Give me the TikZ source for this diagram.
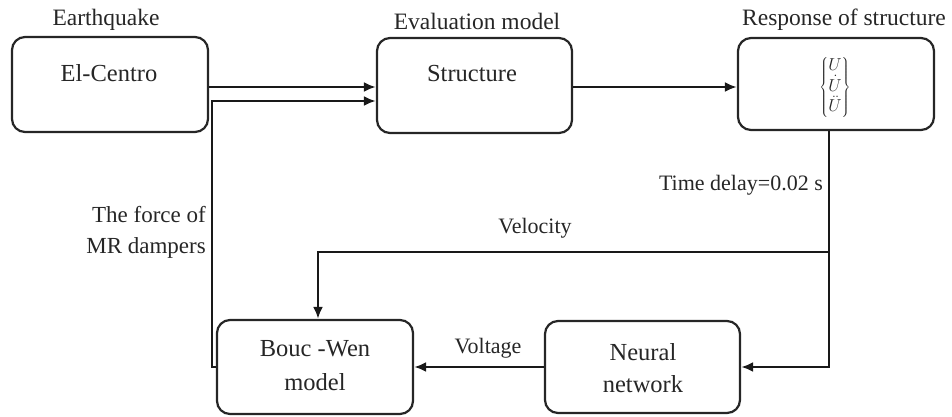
\documentclass[tikz,border=0pt]{standalone}
\usepackage{fontspec}
\setmainfont{LiberationSerif}[Extension=.ttf, UprightFont=*-Regular, BoldFont=*-Bold, ItalicFont=*-Italic]
\usetikzlibrary{arrows.meta}

\tikzset{
  blockbox/.style={draw=black!85, line width=2.2pt, rounded corners=13pt, inner sep=0pt},
  boxtext/.style={font=\fontsize{24.5}{32}\selectfont, text=black!85, align=center, inner sep=0pt},
  titletext/.style={font=\fontsize{23.5}{28}\selectfont, text=black!85, inner sep=0pt},
  flowlabel/.style={font=\fontsize{22}{31}\selectfont, text=black!85, inner sep=0pt},
  flow/.style={draw=black!90, line width=2.6pt, -{Latex[length=12pt,width=10pt]}},
}

\begin{document}
\begin{tikzpicture}[x=1pt,y=-1pt]
\useasboundingbox (0,0) rectangle (952,416);

% blocks
\node[blockbox, minimum width=196pt, minimum height=95pt] (eq) at (110,84.5) {};
\node[blockbox, minimum width=195pt, minimum height=95pt] (st) at (474.5,85.5) {};
\node[blockbox, minimum width=196pt, minimum height=92pt] (rs) at (836,84) {};
\node[blockbox, minimum width=196pt, minimum height=94pt] (bw) at (315,367) {};
\node[blockbox, minimum width=195pt, minimum height=92pt] (nn) at (642.5,367) {};

% block headings
\node[titletext] (eqtitle) at (106,20) {Earthquake};
\node[titletext] (sttitle) at (477,21) {Evaluation model};
\node[titletext] (rstitle) at (844,20) {Response of structure};

% block contents
\node[boxtext] (eqtext) at (109,73) {El-Centro};
\node[boxtext] (sttext) at (472,74) {Structure};
\node[inner sep=0pt, text=black!85] (rstext) at (835,87)
  {\fontsize{19}{20}\selectfont$\left\{\begin{array}{@{}c@{}}U\\[-1pt]\dot{U}\\[-1pt]\ddot{U}\end{array}\right\}$};
\node[boxtext] (bwtext) at (315,366) {Bouc -Wen\\[2pt]model};
\node[boxtext] (nntext) at (643,368) {Neural\\network};

% connectors
\coordinate (fb) at (212,101);
\coordinate (split) at (829,252);

\draw[flow] (eq.east |- 0,87) -- (st.west |- 0,87);
\draw[flow] (bw.west) -| (fb) -- (st.west |- fb);
\draw[flow] (st.east |- 0,87) -- (rs.west |- 0,87);
\draw[flow] (rs.south -| split) |- (nn.east);
\draw[flow] (split) -| ([xshift=3pt]bw.north);
\draw[flow] (nn.west) -- (bw.east);

% connector labels
\node[flowlabel, anchor=east] (delay) at (823,185) {Time delay=0.02 s};
\node[flowlabel] (vel) at (535,228) {Velocity};
\node[flowlabel] (volt) at (488,348) {Voltage};
\node[flowlabel, align=right, anchor=east, font=\fontsize{23}{31}\selectfont] (force) at (206,232) {The force of\\MR dampers};
\end{tikzpicture}
\end{document}
